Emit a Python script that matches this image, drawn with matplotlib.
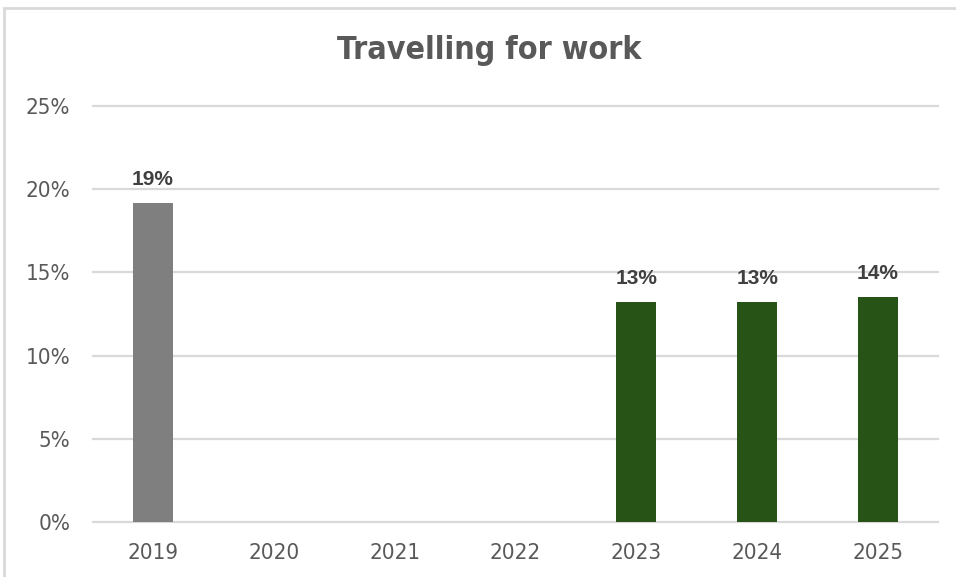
import matplotlib.pyplot as plt
from matplotlib.patches import Rectangle

years = ['2019', '2020', '2021', '2022', '2023', '2024', '2025']
share = [19.2, None, None, None, 13.2, 13.2, 13.5]
bar_colors = ['#7f7f7f', '#275317', '#275317', '#275317', '#275317', '#275317', '#275317']
y_ticks = [0, 5, 10, 15, 20, 25]

fig = plt.figure(figsize=(9.56, 5.77), dpi=100)
ax = fig.add_axes([0.0969, 0.0953, 0.8847, 0.721])

# outer chart frame (top and left edges only are visible)
fig.patches.append(Rectangle((0.004, -0.02), 1.2, 1.006, transform=fig.transFigure,
                             fill=False, edgecolor='#d9d9d9', linewidth=2.0))

xs = list(range(len(years)))
for x, v, c in zip(xs, share, bar_colors):
    if v is None:
        continue
    ax.bar(x, v, width=0.33, color=c, zorder=3)
    ax.annotate(f'{v:.0f}%', (x, v), xytext=(0, 10), textcoords='offset points',
                ha='center', va='bottom', fontsize=15, fontweight='bold', color='#404040',
                family=['Liberation Sans', 'DejaVu Sans'])

ax.set_xlim(-0.5, len(years) - 0.5)
ax.set_ylim(0, 25)
ax.set_xticks(xs)
ax.set_xticklabels(years)
ax.set_yticks(y_ticks)
ax.set_yticklabels([f'{t}%' for t in y_ticks])
ax.tick_params(length=0, labelcolor='#595959')
ax.tick_params(axis='x', pad=15)
ax.tick_params(axis='y', pad=16)
for lab in ax.get_xticklabels() + ax.get_yticklabels():
    lab.set_family(['DejaVu Sans'])
    lab.set_stretch('condensed')
    lab.set_fontsize(16)

ax.grid(axis='y', color='#d9d9d9', linewidth=1.6, zorder=0)
for gl in ax.get_ygridlines():
    gl.set_clip_on(False)
for s in ax.spines.values():
    s.set_visible(False)

fig.text(0.512, 0.912, 'Travelling for work', ha='center', va='center',
         fontsize=23, fontweight='bold', color='#595959', stretch='condensed')

fig.savefig('out.png', dpi=100)
